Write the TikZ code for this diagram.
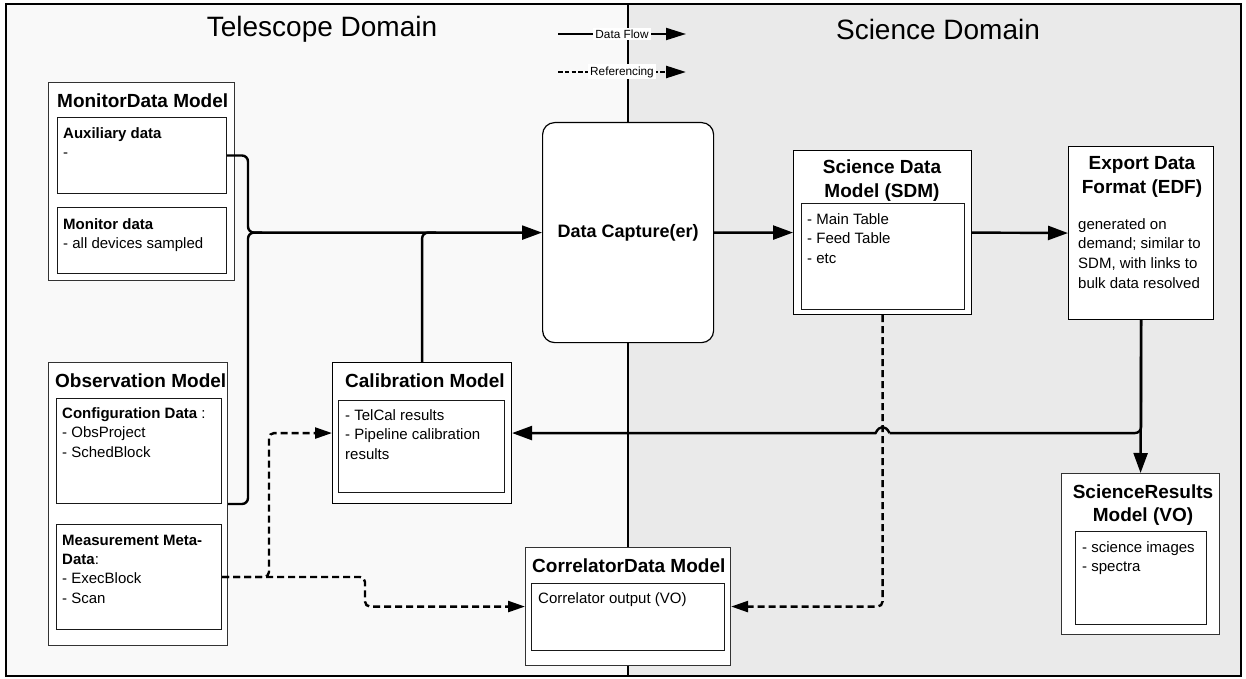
\documentclass[tikz,border=0pt]{standalone}
\usepackage{fontspec}
\setmainfont{Liberation Sans}
\usetikzlibrary{arrows.meta,calc}
\definecolor{leftbg}{HTML}{F9F9F9}
\definecolor{rightbg}{HTML}{EAEAEA}
\begin{document}
\begin{tikzpicture}[x=1pt,y=-1pt,
  outerbox/.style={draw=black!80, line width=1.1pt, fill=white, inner sep=0pt, anchor=north west},
  innerbox/.style={draw=black!90, line width=1pt, fill=white, inner sep=0pt, anchor=north west},
  ttl/.style={font=\fontsize{19}{24}\selectfont\bfseries, inner sep=0pt, anchor=base west},
  ttlc/.style={font=\fontsize{19}{24}\selectfont\bfseries, inner sep=0pt, anchor=north, align=center},
  txt/.style={font=\fontsize{15}{19.7}\selectfont, inner sep=0pt, anchor=north west, align=left},
  dom/.style={font=\fontsize{28}{32}\selectfont, inner sep=0pt},
  flow/.style={line width=2.4pt, draw=black},
  ref/.style={line width=2.4pt, draw=black, dash pattern=on 7pt off 4pt},
  tip/.style={-{Triangle[length=20pt,width=14pt]}},
  rtip/.style={-{Triangle[length=17pt,width=11pt]}},
  legtip/.style={-{Triangle[length=20pt,width=12pt]}},
  legend/.style={fill=white, inner xsep=2pt, inner ysep=2pt, font=\fontsize{11.8}{13}\selectfont}
]
\useasboundingbox (0,0) rectangle (1246,679);
% domains
\fill[leftbg] (6,4) rectangle (628,676);
\fill[rightbg] (628,4) rectangle (1241,676);
\draw[line width=1.2pt] (628,4) -- (628,676);
\draw[line width=1.5pt] (6,4) rectangle (1241,676);
\node[dom] (tdom) at (322,29) {Telescope Domain};
\node[dom] (sdom) at (938,29) {Science Domain};

% legend
\coordinate (lgA) at (558,34);
\coordinate (lgB) at (686,34);
\coordinate (lgC) at (558,72);
\coordinate (lgD) at (686,72);
\draw[line width=2pt, legtip] (lgA) -- node[legend, pos=0.5] (lgf) {Data Flow} (lgB);
\draw[line width=2.5pt, dash pattern=on 4.5pt off 2.3pt, legtip] (lgC) -- node[legend, pos=0.5] (lgr) {Referencing} (lgD);

% MonitorData Model
\node[outerbox, minimum width=186pt, minimum height=198pt] (mon) at (48,82) {};
\node[ttl] (monT) at (57,108) {MonitorData Model};
\node[innerbox, minimum width=169pt, minimum height=76pt] (aux) at (57,117) {};
\node[txt] (auxT) at (63,127) {\textbf{Auxiliary data}\\-};
\node[innerbox, minimum width=169pt, minimum height=66pt] (mdat) at (57,207) {};
\node[txt] (mdatT) at (63,218) {\textbf{Monitor data}\\- all devices sampled};

% Observation Model
\node[outerbox, minimum width=179pt, minimum height=283pt] (obs) at (48,362) {};
\node[ttl] (obsT) at (55,387) {Observation Model};
\node[innerbox, minimum width=165pt, minimum height=105pt] (conf) at (56,398) {};
\node[txt] (confT) at (62,407) {\textbf{Configuration Data} :\\- ObsProject\\- SchedBlock};
\node[innerbox, minimum width=165pt, minimum height=105pt] (meas) at (56,524) {};
\node[txt, font=\fontsize{15}{19.2}\selectfont] (measT) at (62,535) {\textbf{Measurement Meta-}\\\textbf{Data}:\\- ExecBlock\\- Scan};

% Calibration Model
\node[outerbox, draw=black, minimum width=179pt, minimum height=141pt] (cal) at (332,362) {};
\node[ttl] (calT) at (345,387) {Calibration Model};
\node[innerbox, minimum width=166pt, minimum height=92pt] (calin) at (338,400) {};
\node[txt] (calinT) at (345,409) {- TelCal results\\- Pipeline calibration\\results};

% Data Capture
\node[draw=black, line width=1.2pt, fill=white, rounded corners=12pt, minimum width=171pt, minimum height=220pt, anchor=north west, inner sep=0pt, font=\fontsize{18}{22}\selectfont\bfseries] (dc) at (542,122) {Data Capture(er)};

% CorrelatorData Model
\node[outerbox, minimum width=205pt, minimum height=118pt] (cor) at (525,547) {};
\node[ttl] (corT) at (532,572) {CorrelatorData Model};
\node[innerbox, minimum width=193pt, minimum height=67pt] (corin) at (531,583) {};
\node[txt] (corinT) at (538,592) {Correlator output (VO)};

% Science Data Model
\node[outerbox, draw=black, minimum width=178pt, minimum height=164pt] (sdm) at (793,150) {};
\node[ttlc] (sdmT) at (882,160) {Science Data\\Model (SDM)};
\node[innerbox, minimum width=163pt, minimum height=106pt] (sdmin) at (801,203) {};
\node[txt] (sdminT) at (807,213) {- Main Table\\- Feed Table\\- etc};

% Export Data Format
\node[outerbox, draw=black, minimum width=145pt, minimum height=173pt] (edf) at (1068,146) {};
\node[ttlc] (edfT) at (1142,156) {Export Data\\Format (EDF)};
\node[txt] (edfB) at (1078,218) {generated on\\demand; similar to\\SDM, with links to\\bulk data resolved};

% ScienceResults Model
\node[outerbox, minimum width=158pt, minimum height=161pt] (srm) at (1061,473) {};
\node[ttlc, font=\fontsize{19}{22.5}\selectfont\bfseries] (srmT) at (1143,485) {ScienceResults\\Model (VO)};
\node[innerbox, minimum width=131pt, minimum height=93pt] (srmin) at (1075,531) {};
\node[txt] (srminT) at (1082,541) {- science images\\- spectra};

% ---------- connectors ----------
\coordinate (xL) at (248,0);
\coordinate (j1) at (dc.west -| xL);
% referencing (dashed) first
\draw[ref, rtip, rounded corners=5pt] (sdm.south) |- (cor.east);
\coordinate (dA) at ($(meas.east)+(47,0)$);
\coordinate (dB) at ($(meas.east)+(143,0)$);
\draw[ref, rtip, rounded corners=5pt] (meas.east) -- (dA) |- (cal.west);
\draw[ref, rtip, rounded corners=5pt] (meas.east) -- (dB) |- (cor.west);

% data flow
\draw[flow, tip, rounded corners=6pt] (aux.east) -| (j1) -- (dc.west);
\draw[flow, rounded corners=6pt] (conf.south -| obs.east) -| (j1) -- ($(j1)+(14,0)$);
\draw[flow, rounded corners=6pt] (cal.north) |- ($(cal.north |- dc.west)+(14,0)$);
\draw[flow, tip] (dc.east) -- (sdm.west);
\draw[flow, tip] (sdm.east) -- (edf.west);
\draw[flow, tip] (edf.south) -- (srm.north);
\coordinate (xj) at (sdm.south |- cal.east);
\draw[flow, rounded corners=6pt] (edf.south) |- ($(xj)+(7,0)$);
\draw[flow, tip] ($(xj)+(7,0)$) .. controls ($(xj)+(3,-8)$) and ($(xj)+(-3,-8)$) .. ($(xj)+(-7,0)$) -- (cal.east);
\end{tikzpicture}
\end{document}
